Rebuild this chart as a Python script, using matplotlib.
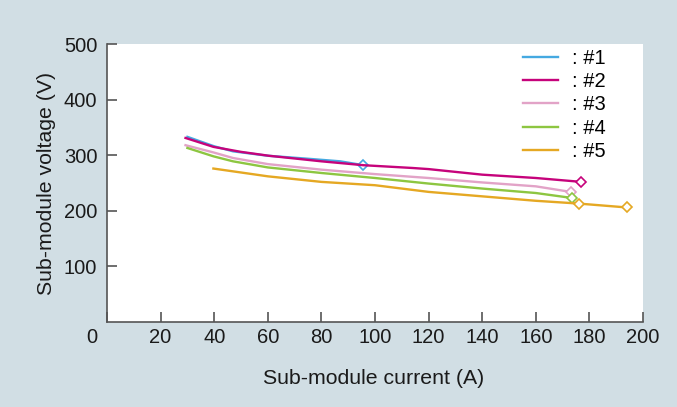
import matplotlib.pyplot as plt
from matplotlib.transforms import ScaledTranslation

plt.rcParams['font.family'] = ['Liberation Sans', 'DejaVu Sans']

# current (A) / voltage (V) per sub-module
x1 = [30, 40, 47, 60, 74, 87, 95.7]
y1 = [333, 316, 307, 299, 294, 289, 282]

x2 = [29.3, 39.7, 50, 60.4, 80, 95.7, 114, 120, 140, 160, 177]
y2 = [331, 315, 306, 299, 289, 282, 277, 275, 265, 259, 252]

x3 = [29.3, 39.7, 47, 60, 80, 100, 120, 140, 160, 173]
y3 = [318, 305, 295, 284, 274, 266, 259, 251, 244, 234]

x4 = [30, 39.7, 47, 60, 80, 100, 120, 140, 160, 173.6]
y4 = [313, 298, 289, 278, 268, 259, 249, 240, 232, 223]

x5 = [39.7, 60, 80, 100, 120, 140, 160, 176, 194]
y5 = [276, 262, 252, 246, 234, 226, 218, 213, 206]

series = [
    (x1, y1, '#45a9e1', ': #1', [len(x1) - 1]),
    (x2, y2, '#c6037b', ': #2', [len(x2) - 1]),
    (x3, y3, '#e2a3c7', ': #3', [len(x3) - 1]),
    (x4, y4, '#8dc641', ': #4', [len(x4) - 1]),
    (x5, y5, '#e5a823', ': #5', [len(x5) - 2, len(x5) - 1]),
]

fs = 14.5
fig = plt.figure(figsize=(6.77, 4.07), dpi=100)
fig.patch.set_facecolor('#d1dee4')
ax = fig.add_axes([107 / 677, 1 - 322 / 407, 536 / 677, 278 / 407])
ax.set_facecolor('white')

for xs, ys, c, lab, mk in series:
    ax.plot(xs, ys, color=c, lw=1.7, label=lab, marker='D', markevery=mk,
            markersize=5.5, markerfacecolor='white', markeredgecolor=c,
            markeredgewidth=1.2)

ax.set_xlim(0, 200)
ax.set_ylim(0, 500)
ax.set_xticks(range(0, 201, 20))
ax.set_yticks(range(100, 501, 100))

for s in ['top', 'right']:
    ax.spines[s].set_visible(False)
for s in ['left', 'bottom']:
    ax.spines[s].set_color('#555555')
    ax.spines[s].set_linewidth(1.2)

ax.tick_params(axis='both', direction='in', length=7, width=1.2,
               color='#555555', labelsize=fs, labelcolor='#1a1a1a')
ax.tick_params(axis='y', pad=7)
ax.tick_params(axis='x', pad=4)

# the "0" label sits a little to the left of the corner
lbl0 = ax.get_xticklabels()[0]
lbl0.set_transform(lbl0.get_transform() + ScaledTranslation(-0.15, 0, fig.dpi_scale_trans))

fig.text(374 / 677, 1 - 379 / 407, 'Sub-module current (A)', ha='center', va='center',
         fontsize=15.3, color='#1a1a1a')
fig.text(47 / 677, 1 - 183 / 407, 'Sub-module voltage (V)', ha='center', va='center',
         rotation=90, fontsize=15.3, color='#1a1a1a')

leg = fig.legend(loc='upper left', bbox_to_anchor=(523 / 677, 1 - 49 / 407), frameon=False,
                 fontsize=fs, handlelength=1.75, handletextpad=0.7,
                 labelspacing=0.21, borderpad=0, borderaxespad=0)
for h in leg.legend_handles:
    h.set_marker('')

fig.savefig('out.png', dpi=100, facecolor=fig.get_facecolor())
